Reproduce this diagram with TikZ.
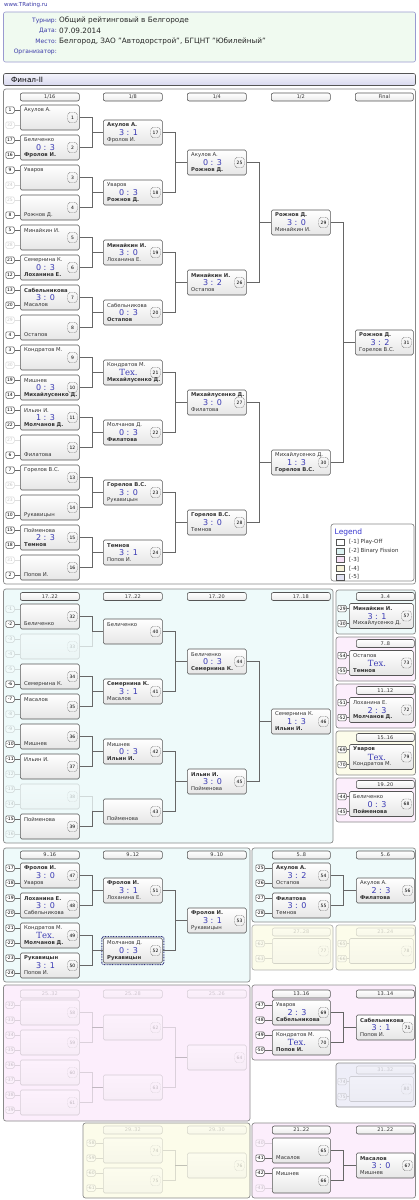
\documentclass[tikz,border=0pt]{standalone}
\usepackage{fontspec}
\setmainfont{DejaVu Sans}
\newfontfamily\serifx{DejaVu Serif}
\usetikzlibrary{calc}
\definecolor{scorec}{HTML}{3A3AB4}
\definecolor{linec}{HTML}{666666}
\definecolor{boxc}{HTML}{555555}
\definecolor{cyanbg}{HTML}{EEFAFA}
\definecolor{pinkbg}{HTML}{FCEEFC}
\definecolor{yellowbg}{HTML}{FCFCEA}
\definecolor{lavbg}{HTML}{EEEEF8}
\definecolor{infobg}{HTML}{F0FAF0}
\definecolor{infobd}{HTML}{9A9AD0}
\definecolor{labc}{HTML}{3A3AA8}
\definecolor{framec}{HTML}{8A8A8A}
\definecolor{hilite}{HTML}{30307A}
\definecolor{bartop}{HTML}{F4F4FC}
\definecolor{barbot}{HTML}{D8D8EE}
\definecolor{legc}{HTML}{3838D0}
\definecolor{lgA}{HTML}{FFFFFF}
\definecolor{lgB}{HTML}{DDF3F3}
\definecolor{lgC}{HTML}{F6E0F6}
\definecolor{lgD}{HTML}{F6F2D8}
\definecolor{lgE}{HTML}{E4E4F4}
\tikzset{
  mbox/.style={draw=boxc, rounded corners=1.5pt, line width=0.6pt, top color=white, bottom color=black!10, minimum height=25pt, inner sep=0pt, anchor=west},
  hdr/.style={draw=boxc, rounded corners=2pt, line width=0.6pt, top color=white, bottom color=black!8, minimum height=8pt, inner sep=0pt, font=\fontsize{5}{5}\selectfont, text=black!80},
  seedb/.style={draw=boxc, rounded corners=1.2pt, line width=0.5pt, fill=white, minimum width=8.5pt, minimum height=6.5pt, inner sep=0.3pt, font=\fontsize{4.5}{4.5}\selectfont},
  numb/.style={draw=boxc, dash pattern=on 0.9pt off 0.7pt, rounded corners=2.5pt, line width=0.4pt, minimum width=9.5pt, minimum height=10pt, inner sep=0pt, font=\fontsize{4.5}{4.5}\selectfont},
  nm/.style={inner sep=0pt, anchor=west, font=\fontsize{5.3}{5.3}\selectfont, text=black!80},
  sc/.style={inner sep=0pt, font=\fontsize{8}{8}\selectfont, text=scorec},
  conn/.style={draw=linec, line width=0.7pt},
  faint/.style={opacity=0.22},
  sect/.style={draw=framec, rounded corners=2.5pt, line width=0.7pt},
  lab/.style={inner sep=0pt, anchor=east, font=\fontsize{6}{6}\selectfont, text=labc},
  val/.style={inner sep=0pt, anchor=west, font=\fontsize{7.3}{7.3}\selectfont, text=black!85},
}
\newcommand\teh{{\serifx\fontsize{8.5}{8.5}\selectfont Тех.}}
% match: name, xl, yc, w, num, top, score, bottom, style
\newcommand\mt[9]{%
  \begin{scope}[#9]
    \node[mbox, minimum width=#4pt] (#1) at (#2,#3) {};
    \node[nm] (#1t) at ({#2+4},{#3-7.4}) {#6};
    \node[sc] (#1s) at ({#2+#4/2-4},{#3+0.3}) {#7};
    \node[nm] (#1b) at ({#2+4},{#3+7.4}) {#8};
    \node[numb] (#1n) at ({#2+#4-6.5},{#3}) {#5};
  \end{scope}}
% seed: name, x, y, label, target, style
\newcommand\sd[6]{%
  \begin{scope}[#6]
    \node[seedb] (#1) at (#2,#3) {#4};
    \draw[conn, line width=0.5pt] (#1.east) -- (#1.east -| #5.west);
  \end{scope}}
% join: from, to, style
\newcommand\jn[3]{\draw[conn,#3] (#1.east) -- ++(12.5,0) |- (#2.west);}
% header: name, xl, yc, text, w, style
\newcommand\hd[6]{\begin{scope}[#6]\node[hdr, minimum width=#5pt, anchor=west] (#1) at (#2,#3) {#4};\end{scope}}
\begin{document}
\begin{tikzpicture}[x=1pt, y=-1pt]
\useasboundingbox (0,0) rectangle (419,1200);
\fill[white] (0,0) rectangle (419,1200);
% ---------- header
\node[inner sep=0pt, anchor=west, font=\fontsize{5.5}{5.5}\selectfont, text=labc] (www) at (4,5) {www.TRating.ru};
\draw[draw=infobd, fill=infobg, rounded corners=2pt, line width=0.6pt] (3.5,12) rectangle (415.5,62);
\node[lab] (l1) at (57,20.5) {Турнир:};
\node[lab] (l2) at (57,31) {Дата:};
\node[lab] (l3) at (57,41.5) {Место:};
\node[lab] (l4) at (57,52) {Организатор:};
\node[val] (v1) at (59,20.5) {Общий рейтинговый в Белгороде};
\node[val] (v2) at (59,31) {07.09.2014};
\node[val] (v3) at (59,41.5) {Белгород, ЗАО "Автодорстрой", БГЦНТ "Юбилейный"};
\draw[draw=boxc, top color=bartop, bottom color=barbot, rounded corners=2pt, line width=0.6pt] (3.5,73.5) rectangle (415.5,85.5);
\node[inner sep=0pt, anchor=west, font=\fontsize{7.3}{7.3}\selectfont] (fin) at (11,79.5) {Финал-II};
% ---------- main bracket
\draw[sect, fill=white] (3.5,89) rectangle (415.5,584);
\hd{h1}{20}{97}{1/16}{59}{}
\hd{h2}{103}{97}{1/8}{59}{}
\hd{h3}{187}{97}{1/4}{59}{}
\hd{h4}{271}{97}{1/2}{59}{}
\hd{h5}{355}{97}{Final}{58}{}
\mt{m1}{20}{117.5}{59}{1}{Акулов А.}{}{}{}
\mt{m2}{20}{147.5}{59}{2}{Беличенко}{0 : 3}{\textbf{Фролов И.}}{}
\mt{m3}{20}{177.5}{59}{3}{Уваров}{}{}{}
\mt{m4}{20}{207.5}{59}{4}{}{}{Рожнов Д.}{}
\mt{m5}{20}{237.5}{59}{5}{Минайкин И.}{}{}{}
\mt{m6}{20}{267.5}{59}{6}{Семернина К.}{0 : 3}{\textbf{Лоханина Е.}}{}
\mt{m7}{20}{297.5}{59}{7}{\textbf{Сабельникова}}{3 : 0}{Масалов}{}
\mt{m8}{20}{327.5}{59}{8}{}{}{Остапов}{}
\mt{m9}{20}{357.5}{59}{9}{Кондратов М.}{}{}{}
\mt{m10}{20}{387.5}{59}{10}{Мишнев}{0 : 3}{\textbf{Михайлусенко Д.}}{}
\mt{m11}{20}{417.5}{59}{11}{Ильин И.}{1 : 3}{\textbf{Молчанов Д.}}{}
\mt{m12}{20}{447.5}{59}{12}{}{}{Филатова}{}
\mt{m13}{20}{477.5}{59}{13}{Горелов В.С.}{}{}{}
\mt{m14}{20}{507.5}{59}{14}{}{}{Рукавицын}{}
\mt{m15}{20}{537.5}{59}{15}{Пойменова}{2 : 3}{\textbf{Темнов}}{}
\mt{m16}{20}{567.5}{59}{16}{}{}{Попов И.}{}
\sd{a1}{10}{110}{1}{m1}{}\sd{b1}{10}{125}{32}{m1}{faint}
\sd{a2}{10}{140}{17}{m2}{}\sd{b2}{10}{155}{16}{m2}{}
\sd{a3}{10}{170}{9}{m3}{}\sd{b3}{10}{185}{24}{m3}{faint}
\sd{a4}{10}{200}{25}{m4}{faint}\sd{b4}{10}{215}{8}{m4}{}
\sd{a5}{10}{230}{5}{m5}{}\sd{b5}{10}{245}{28}{m5}{faint}
\sd{a6}{10}{260}{21}{m6}{}\sd{b6}{10}{275}{12}{m6}{}
\sd{a7}{10}{290}{13}{m7}{}\sd{b7}{10}{305}{20}{m7}{}
\sd{a8}{10}{320}{29}{m8}{faint}\sd{b8}{10}{335}{4}{m8}{}
\sd{a9}{10}{350}{3}{m9}{}\sd{b9}{10}{365}{30}{m9}{faint}
\sd{a10}{10}{380}{19}{m10}{}\sd{b10}{10}{395}{14}{m10}{}
\sd{a11}{10}{410}{11}{m11}{}\sd{b11}{10}{425}{22}{m11}{}
\sd{a12}{10}{440}{27}{m12}{faint}\sd{b12}{10}{455}{6}{m12}{}
\sd{a13}{10}{470}{7}{m13}{}\sd{b13}{10}{485}{26}{m13}{faint}
\sd{a14}{10}{500}{23}{m14}{faint}\sd{b14}{10}{515}{10}{m14}{}
\sd{a15}{10}{530}{15}{m15}{}\sd{b15}{10}{545}{18}{m15}{}
\sd{a16}{10}{560}{31}{m16}{faint}\sd{b16}{10}{575}{2}{m16}{}
\mt{m17}{103}{132.5}{59}{17}{\textbf{Акулов А.}}{3 : 1}{Фролов И.}{}
\mt{m18}{103}{192.5}{59}{18}{Уваров}{0 : 3}{\textbf{Рожнов Д.}}{}
\mt{m19}{103}{252.5}{59}{19}{\textbf{Минайкин И.}}{3 : 0}{Лоханина Е.}{}
\mt{m20}{103}{312.5}{59}{20}{Сабельникова}{0 : 3}{\textbf{Остапов}}{}
\mt{m21}{103}{372.5}{59}{21}{Кондратов М.}{\teh}{\textbf{Михайлусенко Д.}}{}
\mt{m22}{103}{432.5}{59}{22}{Молчанов Д.}{0 : 3}{\textbf{Филатова}}{}
\mt{m23}{103}{492.5}{59}{23}{\textbf{Горелов В.С.}}{3 : 0}{Рукавицын}{}
\mt{m24}{103}{552.5}{59}{24}{\textbf{Темнов}}{3 : 1}{Попов И.}{}
\mt{m25}{187}{162.5}{59}{25}{Акулов А.}{0 : 3}{\textbf{Рожнов Д.}}{}
\mt{m26}{187}{282.5}{59}{26}{\textbf{Минайкин И.}}{3 : 2}{Остапов}{}
\mt{m27}{187}{402.5}{59}{27}{\textbf{Михайлусенко Д.}}{3 : 0}{Филатова}{}
\mt{m28}{187}{522.5}{59}{28}{\textbf{Горелов В.С.}}{3 : 0}{Темнов}{}
\mt{m29}{271}{222.5}{59}{29}{\textbf{Рожнов Д.}}{3 : 0}{Минайкин И.}{}
\mt{m30}{271}{462.5}{59}{30}{Михайлусенко Д.}{1 : 3}{\textbf{Горелов В.С.}}{}
\mt{m31}{355}{342.5}{58}{31}{\textbf{Рожнов Д.}}{3 : 2}{Горелов В.С.}{}
\jn{m1}{m17}{}\jn{m2}{m17}{}\jn{m3}{m18}{}\jn{m4}{m18}{}
\jn{m5}{m19}{}\jn{m6}{m19}{}\jn{m7}{m20}{}\jn{m8}{m20}{}
\jn{m9}{m21}{}\jn{m10}{m21}{}\jn{m11}{m22}{}\jn{m12}{m22}{}
\jn{m13}{m23}{}\jn{m14}{m23}{}\jn{m15}{m24}{}\jn{m16}{m24}{}
\jn{m17}{m25}{}\jn{m18}{m25}{}\jn{m19}{m26}{}\jn{m20}{m26}{}
\jn{m21}{m27}{}\jn{m22}{m27}{}\jn{m23}{m28}{}\jn{m24}{m28}{}
\jn{m25}{m29}{}\jn{m26}{m29}{}\jn{m27}{m30}{}\jn{m28}{m30}{}
\jn{m29}{m31}{}\jn{m30}{m31}{}
% legend
\draw[sect, fill=white] (331,524) rectangle (414,581);
\node[inner sep=0pt, anchor=west, font=\fontsize{7.5}{7.5}\selectfont, text=legc] (lgh) at (334.5,532.5) {Legend};
\foreach \i/\c/\t [count=\k] in {0/lgA/{[-1] Play-Off},1/lgB/{[-2] Binary Fission},2/lgC/{[-3]},3/lgD/{[-4]},4/lgE/{[-5]}}{
  \node[draw=boxc, line width=0.4pt, fill=\c, minimum width=8pt, minimum height=6pt, inner sep=0pt] (lg\k) at (340.5,{542+8.8*\i}) {};
  \node[inner sep=0pt, anchor=west, font=\fontsize{5.5}{5.5}\selectfont, text=black!80] (lt\k) at (349,{542+8.8*\i}) {\t};
}
% ---------- binary fission 17..22
\draw[sect, fill=cyanbg] (3.5,589) rectangle (333,843);
\hd{h6}{20}{596.5}{17..22}{59}{}
\hd{h7}{103}{596.5}{17..22}{59}{}
\hd{h8}{187}{596.5}{17..20}{59}{}
\hd{h9}{271}{596.5}{17..18}{59}{}
\mt{m32}{20}{616.5}{59}{32}{}{}{Беличенко}{}
\mt{m33}{20}{646.5}{59}{33}{}{}{}{faint}
\mt{m34}{20}{676.5}{59}{34}{}{}{Семернина К.}{}
\mt{m35}{20}{706.5}{59}{35}{Масалов}{}{}{}
\mt{m36}{20}{736.5}{59}{36}{}{}{Мишнев}{}
\mt{m37}{20}{766.5}{59}{37}{Ильин И.}{}{}{}
\mt{m38}{20}{796.5}{59}{38}{}{}{}{faint}
\mt{m39}{20}{826.5}{59}{39}{Пойменова}{}{}{}
\sd{a32}{10}{609}{-1}{m32}{faint}\sd{b32}{10}{624}{-2}{m32}{}
\sd{a33}{10}{639}{-3}{m33}{faint}\sd{b33}{10}{654}{-4}{m33}{faint}
\sd{a34}{10}{669}{-5}{m34}{faint}\sd{b34}{10}{684}{-6}{m34}{}
\sd{a35}{10}{699}{-7}{m35}{}\sd{b35}{10}{714}{-8}{m35}{faint}
\sd{a36}{10}{729}{-9}{m36}{faint}\sd{b36}{10}{744}{-10}{m36}{}
\sd{a37}{10}{759}{-11}{m37}{}\sd{b37}{10}{774}{-12}{m37}{faint}
\sd{a38}{10}{789}{-13}{m38}{faint}\sd{b38}{10}{804}{-14}{m38}{faint}
\sd{a39}{10}{819}{-15}{m39}{}\sd{b39}{10}{834}{-16}{m39}{faint}
\mt{m40}{103}{631.5}{59}{40}{Беличенко}{}{}{}
\mt{m41}{103}{691.5}{59}{41}{\textbf{Семернина К.}}{3 : 1}{Масалов}{}
\mt{m42}{103}{751.5}{59}{42}{Мишнев}{0 : 3}{\textbf{Ильин И.}}{}
\mt{m43}{103}{811.5}{59}{43}{}{}{Пойменова}{}
\mt{m44}{187}{661.5}{59}{44}{Беличенко}{0 : 3}{\textbf{Семернина К.}}{}
\mt{m45}{187}{781.5}{59}{45}{\textbf{Ильин И.}}{3 : 0}{Пойменова}{}
\mt{m46}{271}{721.5}{59}{46}{Семернина К.}{1 : 3}{\textbf{Ильин И.}}{}
\jn{m32}{m40}{}\jn{m33}{m40}{faint}\jn{m34}{m41}{}\jn{m35}{m41}{}
\jn{m36}{m42}{}\jn{m37}{m42}{}\jn{m38}{m43}{faint}\jn{m39}{m43}{}
\jn{m40}{m44}{}\jn{m41}{m44}{}\jn{m42}{m45}{}\jn{m43}{m45}{}
\jn{m44}{m46}{}\jn{m45}{m46}{}
% ---------- right column small brackets
\draw[sect, fill=cyanbg] (336,590) rectangle (415.5,634);
\hd{h10}{356}{596.5}{3..4}{58}{}
\mt{m57}{349}{616}{64}{57}{\textbf{Минайкин И.}}{3 : 1}{Михайлусенко Д.}{}
\sd{a57}{342}{608.5}{-29}{m57}{}\sd{b57}{342}{623.5}{-30}{m57}{}
\draw[sect, fill=pinkbg] (336,637) rectangle (415.5,681);
\hd{h11}{356}{643.5}{7..8}{58}{}
\mt{m73}{349}{663}{64}{73}{Остапов}{\teh}{\textbf{Темнов}}{}
\sd{a73}{342}{655.5}{-54}{m73}{}\sd{b73}{342}{670.5}{-55}{m73}{}
\draw[sect, fill=pinkbg] (336,684) rectangle (415.5,728);
\hd{h12}{356}{690.5}{11..12}{58}{}
\mt{m72}{349}{710}{64}{72}{Лоханина Е.}{2 : 3}{\textbf{Молчанов Д.}}{}
\sd{a72}{342}{702.5}{-51}{m72}{}\sd{b72}{342}{717.5}{-52}{m72}{}
\draw[sect, fill=yellowbg] (336,731) rectangle (415.5,775);
\hd{h13}{356}{737.5}{15..16}{58}{}
\mt{m79}{349}{757}{64}{79}{\textbf{Уваров}}{\teh}{Кондратов М.}{}
\sd{a79}{342}{749.5}{-69}{m79}{}\sd{b79}{342}{764.5}{-70}{m79}{}
\draw[sect, fill=pinkbg] (336,778) rectangle (415.5,822);
\hd{h14}{356}{784.5}{19..20}{58}{}
\mt{m68}{349}{804}{64}{68}{Беличенко}{0 : 3}{\textbf{Пойменова}}{}
\sd{a68}{342}{796.5}{-44}{m68}{}\sd{b68}{342}{811.5}{-45}{m68}{}
% ---------- 9..16
\draw[sect, fill=cyanbg] (3.5,848) rectangle (250,982);
\hd{h15}{20}{855}{9..16}{59}{}
\hd{h16}{103}{855}{9..12}{59}{}
\hd{h17}{187}{855}{9..10}{59}{}
\mt{m47}{20}{875.5}{59}{47}{\textbf{Фролов И.}}{3 : 0}{Уваров}{}
\mt{m48}{20}{905.5}{59}{48}{\textbf{Лоханина Е.}}{3 : 0}{Сабельникова}{}
\mt{m49}{20}{935.5}{59}{49}{Кондратов М.}{\teh}{\textbf{Молчанов Д.}}{}
\mt{m50}{20}{965.5}{59}{50}{\textbf{Рукавицын}}{3 : 1}{Попов И.}{}
\sd{a47}{10}{868}{-17}{m47}{}\sd{b47}{10}{883}{-18}{m47}{}
\sd{a48}{10}{898}{-19}{m48}{}\sd{b48}{10}{913}{-20}{m48}{}
\sd{a49}{10}{928}{-21}{m49}{}\sd{b49}{10}{943}{-22}{m49}{}
\sd{a50}{10}{958}{-23}{m50}{}\sd{b50}{10}{973}{-24}{m50}{}
\mt{m51}{103}{890.5}{59}{51}{\textbf{Фролов И.}}{3 : 1}{Лоханина Е.}{}
\mt{m52}{103}{950.5}{59}{52}{Молчанов Д.}{0 : 3}{\textbf{Рукавицын}}{}
\draw[draw=hilite, dash pattern=on 0.8pt off 0.8pt, line width=1pt, rounded corners=1.5pt] ($(m52.south west)+(-1.2,1.2)$) rectangle ($(m52.north east)+(1.2,-1.2)$);
\mt{m53}{187}{920.5}{59}{53}{\textbf{Фролов И.}}{3 : 1}{Рукавицын}{}
\jn{m47}{m51}{}\jn{m48}{m51}{}\jn{m49}{m52}{}\jn{m50}{m52}{}
\jn{m51}{m53}{}\jn{m52}{m53}{}
% ---------- 5..8
\draw[sect, fill=cyanbg] (252,848) rectangle (415.5,922);
\hd{h18}{272}{855}{5..8}{58}{}
\hd{h19}{356}{855}{5..6}{58}{}
\mt{m54}{272}{875.5}{58}{54}{\textbf{Акулов А.}}{3 : 2}{Остапов}{}
\mt{m55}{272}{905.5}{58}{55}{\textbf{Филатова}}{3 : 0}{Темнов}{}
\mt{m56}{356}{890.5}{58}{56}{Акулов А.}{2 : 3}{\textbf{Филатова}}{}
\sd{a54}{260}{868}{-25}{m54}{}\sd{b54}{260}{883}{-26}{m54}{}
\sd{a55}{260}{898}{-27}{m55}{}\sd{b55}{260}{913}{-28}{m55}{}
\jn{m54}{m56}{}\jn{m55}{m56}{}
% ---------- 27..28 / 23..24 (faint)
\draw[sect, draw=black!30, fill=yellowbg] (252,925) rectangle (333,970);
\hd{h20}{272}{932}{27..28}{58}{faint}
\mt{m77}{272}{951}{58}{77}{}{}{}{faint}
\sd{a77}{260}{943.5}{-62}{m77}{faint}\sd{b77}{260}{958.5}{-63}{m77}{faint}
\draw[sect, draw=black!30, fill=yellowbg] (336,925) rectangle (415.5,970);
\hd{h21}{356}{932}{23..24}{58}{faint}
\mt{m78}{349}{951}{64}{78}{}{}{}{faint}
\sd{a78}{342}{943.5}{-65}{m78}{faint}\sd{b78}{342}{958.5}{-66}{m78}{faint}
% ---------- 25..32 (faint)
\draw[sect, fill=pinkbg] (3.5,985) rectangle (250,1121);
\hd{h22}{20}{994}{25..32}{59}{faint}
\hd{h23}{103}{994}{25..28}{59}{faint}
\hd{h24}{187}{994}{25..26}{59}{faint}
\mt{m58}{20}{1012.5}{59}{58}{}{}{}{faint}
\mt{m59}{20}{1042.5}{59}{59}{}{}{}{faint}
\mt{m60}{20}{1072.5}{59}{60}{}{}{}{faint}
\mt{m61}{20}{1102.5}{59}{61}{}{}{}{faint}
\sd{a58}{10}{1005}{-32}{m58}{faint}\sd{b58}{10}{1020}{-33}{m58}{faint}
\sd{a59}{10}{1035}{-34}{m59}{faint}\sd{b59}{10}{1050}{-35}{m59}{faint}
\sd{a60}{10}{1065}{-36}{m60}{faint}\sd{b60}{10}{1080}{-37}{m60}{faint}
\sd{a61}{10}{1095}{-38}{m61}{faint}\sd{b61}{10}{1110}{-39}{m61}{faint}
\mt{m62}{103}{1027.5}{59}{62}{}{}{}{faint}
\mt{m63}{103}{1087.5}{59}{63}{}{}{}{faint}
\mt{m64}{187}{1057.5}{59}{64}{}{}{}{faint}
\jn{m58}{m62}{faint}\jn{m59}{m62}{faint}\jn{m60}{m63}{faint}\jn{m61}{m63}{faint}
\jn{m62}{m64}{faint}\jn{m63}{m64}{faint}
% ---------- 13..16
\draw[sect, fill=pinkbg] (252,985) rectangle (415.5,1060);
\hd{h25}{272}{994}{13..16}{58}{}
\hd{h26}{356}{994}{13..14}{58}{}
\mt{m69}{272}{1012.5}{58}{69}{Уваров}{2 : 3}{\textbf{Сабельникова}}{}
\mt{m70}{272}{1042.5}{58}{70}{Кондратов М.}{\teh}{\textbf{Попов И.}}{}
\mt{m71}{356}{1027.5}{58}{71}{\textbf{Сабельникова}}{3 : 1}{Попов И.}{}
\sd{a69}{260}{1005}{-47}{m69}{}\sd{b69}{260}{1020}{-48}{m69}{}
\sd{a70}{260}{1035}{-49}{m70}{}\sd{b70}{260}{1050}{-50}{m70}{}
\jn{m69}{m71}{}\jn{m70}{m71}{}
% ---------- 31..32 (faint)
\draw[sect, fill=lavbg] (336,1063) rectangle (415.5,1107);
\hd{h27}{356}{1070}{31..32}{58}{faint}
\mt{m80}{349}{1089}{64}{80}{}{}{}{faint}
\sd{a80}{342}{1081.5}{-74}{m80}{faint}\sd{b80}{342}{1096.5}{-75}{m80}{faint}
% ---------- 29..32 (faint)
\draw[sect, fill=yellowbg] (83,1123) rectangle (250,1198);
\hd{h28}{103}{1130}{29..32}{59}{faint}
\hd{h29}{187}{1130}{29..30}{59}{faint}
\mt{m74}{103}{1150.5}{59}{74}{}{}{}{faint}
\mt{m75}{103}{1180.5}{59}{75}{}{}{}{faint}
\mt{m76}{187}{1165.5}{59}{76}{}{}{}{faint}
\sd{a74}{91}{1143}{-58}{m74}{faint}\sd{b74}{91}{1158}{-59}{m74}{faint}
\sd{a75}{91}{1173}{-60}{m75}{faint}\sd{b75}{91}{1188}{-61}{m75}{faint}
\jn{m74}{m76}{faint}\jn{m75}{m76}{faint}
% ---------- 21..22
\draw[sect, fill=pinkbg] (252,1123) rectangle (415.5,1198);
\hd{h30}{272}{1130}{21..22}{58}{}
\hd{h31}{356}{1130}{21..22}{58}{}
\mt{m65}{272}{1150.5}{58}{65}{}{}{Масалов}{}
\mt{m66}{272}{1180.5}{58}{66}{Мишнев}{}{}{}
\mt{m67}{356}{1165.5}{58}{67}{\textbf{Масалов}}{3 : 0}{Мишнев}{}
\sd{a65}{260}{1143}{-40}{m65}{faint}\sd{b65}{260}{1158}{-41}{m65}{}
\sd{a66}{260}{1173}{-42}{m66}{}\sd{b66}{260}{1188}{-43}{m66}{faint}
\jn{m65}{m67}{}\jn{m66}{m67}{}
\end{tikzpicture}
\end{document}
